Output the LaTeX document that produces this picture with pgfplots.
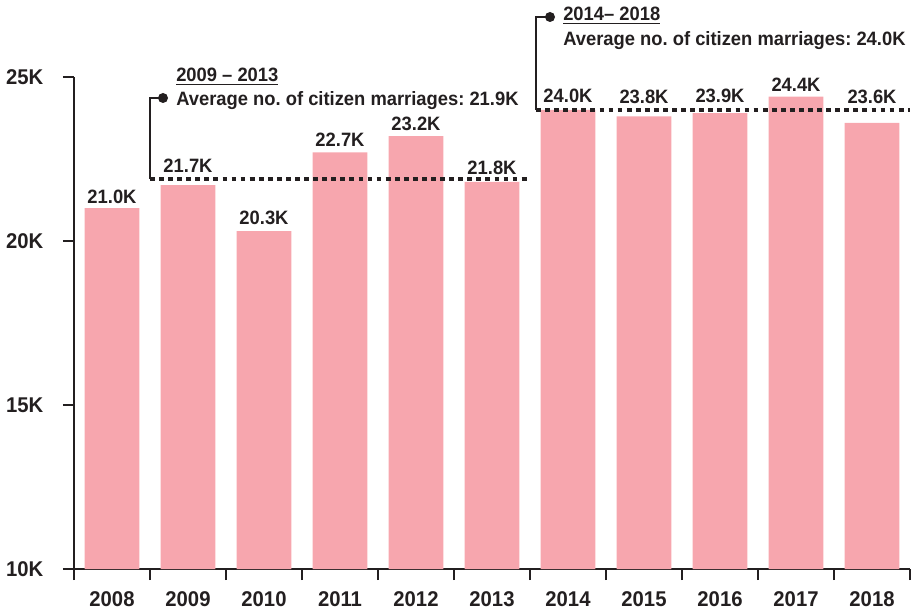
\documentclass[border=0pt]{standalone}
\usepackage{fontspec}
\setmainfont{Liberation Sans}[FakeStretch=0.95]
\usepackage{pgfplots}
\usepackage{pgfplotstable}
\pgfplotsset{compat=1.18}
\definecolor{barc}{HTML}{F7A6AE}
\definecolor{ink}{HTML}{231F20}
\newcommand{\tf}{\fontsize{16}{19}\selectfont\bfseries}
\newcommand{\vf}{\fontsize{14.5}{17}\selectfont\bfseries}
\newcommand{\af}{\fontsize{14.5}{17}\selectfont\bfseries}
\frenchspacing
\pgfplotstableread{
x y dy
0 21.0 3.75
1 21.7 9.75
2 20.3 5.25
3 22.7 4.5
4 23.2 4.5
5 21.8 5.25
6 24.0 5.25
7 23.8 9.75
8 23.9 8.25
9 24.4 3.75
10 23.6 14.25
}\marriages
\begin{document}
\begin{tikzpicture}
\begin{axis}[name=ax, scale only axis, width=627pt, height=369pt,
  xmin=-0.5, xmax=10.5, ymin=10, ymax=25,
  clip mode=individual,
  /pgf/number format/assume math mode=true,
  axis x line*=bottom, axis y line*=left,
  axis line style={ink, line width=1.5pt, -},
  ytick={10,15,20,25}, yticklabels={10K,15K,20K,25K},
  xtick={-0.5,0.5,...,10.5}, xticklabels={},
  extra x ticks={0,1,2,3,4,5,6,7,8,9,10},
  extra x tick labels={2008,2009,2010,2011,2012,2013,2014,2015,2016,2017,2018},
  extra x tick style={major tick length=0pt, xticklabel style={yshift=-13.5pt}},
  tick align=outside, major tick length=8.25pt,
  tick style={ink, line width=1.5pt},
  ticklabel style={font=\tf, text=ink},
  yticklabel style={xshift=-11.25pt},
]
\addplot[ybar, bar width=0.72, fill=barc, draw=none,
  visualization depends on={\thisrow{dy}\as\dy},
  nodes near coords={\pgfmathprintnumber[fixed,fixed zerofill,precision=1]{\pgfplotspointmeta}K},
  every node near coord/.append style={font=\vf, text=ink, anchor=base, inner sep=0pt, yshift=\dy}]
  table[x=x, y=y] {\marriages};
\addplot[ink, line width=2.8pt, dash pattern=on 3.6pt off 3.2pt, no marks] coordinates {(0.5,21.9) (5.5,21.9)};
\addplot[ink, line width=2.8pt, dash pattern=on 3.6pt off 3.2pt, no marks] coordinates {(5.58,24.0) (10.5,24.0)};
\end{axis}
\begin{scope}[shift={(ax.south west)}, x=0.75pt, y=0.75pt]
  \draw[ink, line width=1.8pt] (76,390) -- (76,471) -- (89,471);
  \fill[ink] (89,471) circle[radius=5];
  \node[anchor=base west, inner sep=0pt, text=ink, font=\af] at (102,487) {\underline{2009 – 2013}};
  \node[anchor=base west, inner sep=0pt, text=ink, font=\af] at (102,463) {Average no. of citizen marriages: 21.9K};
  \draw[ink, line width=1.8pt] (462,459) -- (462,552) -- (476,552);
  \fill[ink] (476,552) circle[radius=5];
  \node[anchor=base west, inner sep=0pt, text=ink, font=\af] at (489,548) {\underline{2014– 2018}};
  \node[anchor=base west, inner sep=0pt, text=ink, font=\af] at (489,523) {Average no. of citizen marriages: 24.0K};
\end{scope}
\pgfresetboundingbox
\path (ax.south west) ++(-55.5pt,-31.5pt) rectangle ++(687.75pt,458.25pt);
\end{tikzpicture}
\end{document}
